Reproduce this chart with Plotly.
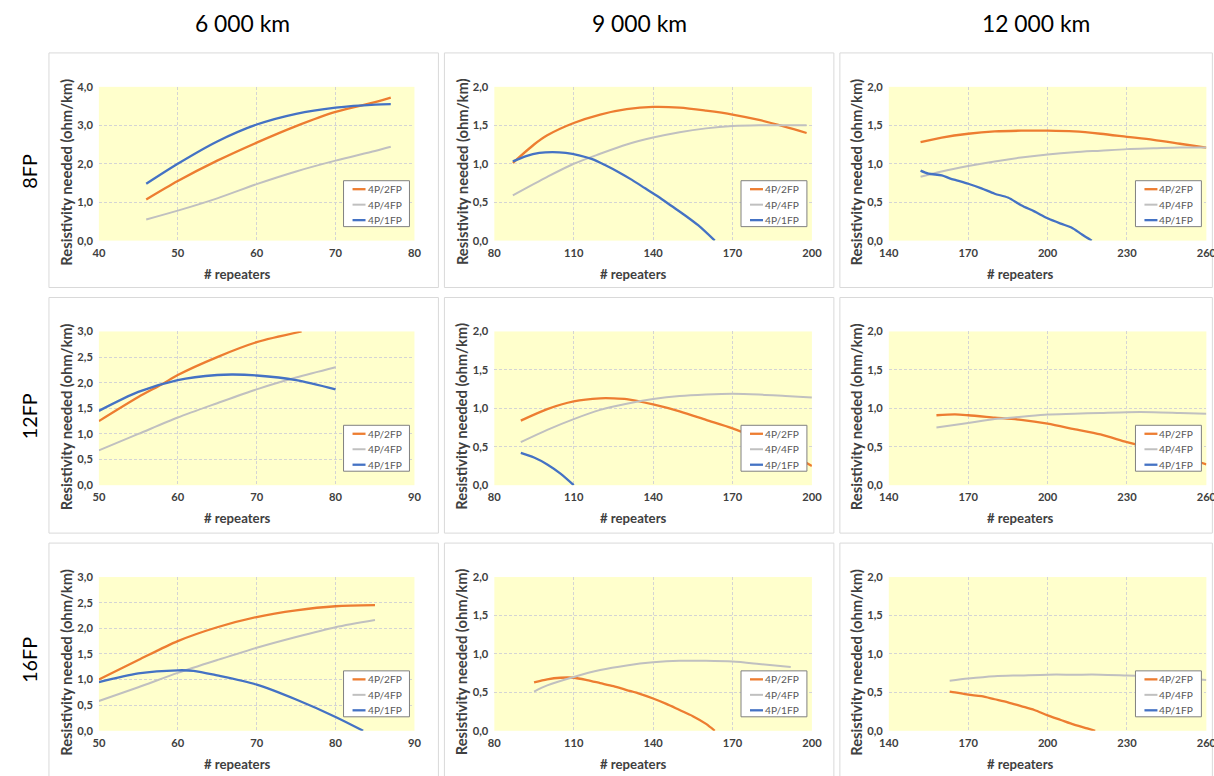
import plotly.graph_objects as go

# Window 1214x776. The captured page places the figure at an 8 px offset and renders it
# at ~98.5 % scale, so positions/sizes are mapped from window pixels to figure pixels.
W, H = 1214, 776
OFF = 8
S = 0.985
FW, FH = round((W - OFF) / S), round((H - OFF) / S)

# ---------------- data ----------------
col_titles = ["6 000 km", "9 000 km", "12 000 km"]
row_titles = ["8FP", "12FP", "16FP"]
series_names = ["4P/2FP", "4P/4FP", "4P/1FP"]
series_colors = ["#ED7D31", "#C0C0C0", "#4472C4"]
series_widths = [2.3, 2.0, 2.3]

# 8FP, 6 000 km
x_8_6_2fp = [46, 50, 55, 60, 65, 70, 75, 77]
y_8_6_2fp = [1.07, 1.55, 2.08, 2.55, 2.98, 3.35, 3.6, 3.72]
x_8_6_4fp = [46, 50, 55, 60, 65, 70, 75, 77]
y_8_6_4fp = [0.55, 0.78, 1.1, 1.47, 1.8, 2.08, 2.33, 2.44]
x_8_6_1fp = [46, 50, 55, 60, 65, 70, 75, 77]
y_8_6_1fp = [1.48, 2.0, 2.58, 3.02, 3.3, 3.46, 3.54, 3.55]

# 8FP, 9 000 km
x_8_9_2fp = [87, 95, 100, 110, 120, 130, 140, 150, 160, 170, 180, 190, 198]
y_8_9_2fp = [1.01, 1.25, 1.37, 1.53, 1.64, 1.71, 1.74, 1.73, 1.69, 1.64, 1.57, 1.48, 1.40]
x_8_9_4fp = [87, 100, 110, 120, 130, 140, 150, 160, 170, 180, 190, 198]
y_8_9_4fp = [0.59, 0.83, 1.0, 1.13, 1.25, 1.34, 1.41, 1.46, 1.49, 1.50, 1.50, 1.50]
x_8_9_1fp = [87, 92, 97, 102, 107, 112, 117, 122, 127, 132, 137, 142, 147, 152, 157, 163.3]
y_8_9_1fp = [1.03, 1.10, 1.14, 1.15, 1.14, 1.11, 1.06, 0.98, 0.89, 0.79, 0.68, 0.57, 0.45, 0.33, 0.20, 0.0]

# 8FP, 12 000 km
x_8_12_2fp = [152, 160, 170, 180, 190, 200, 210, 220, 230, 240, 250, 260]
y_8_12_2fp = [1.28, 1.34, 1.39, 1.42, 1.43, 1.43, 1.42, 1.39, 1.35, 1.31, 1.26, 1.21]
x_8_12_4fp = [152, 160, 170, 180, 190, 200, 210, 220, 230, 240, 250, 260]
y_8_12_4fp = [0.83, 0.9, 0.97, 1.03, 1.08, 1.12, 1.15, 1.17, 1.19, 1.20, 1.21, 1.21]
x_8_12_1fp = [152, 155, 160, 163, 166, 170, 175, 180, 185, 190, 195, 200, 205, 209, 213, 216.7]
y_8_12_1fp = [0.91, 0.87, 0.85, 0.81, 0.78, 0.74, 0.68, 0.61, 0.56, 0.46, 0.38, 0.29, 0.22, 0.17, 0.08, 0.0]

# 12FP, 6 000 km
x_12_6_2fp = [50, 55, 58, 60, 65, 70, 75.7]
y_12_6_2fp = [1.25, 1.72, 1.97, 2.15, 2.5, 2.79, 3.0]
x_12_6_4fp = [50, 55, 60, 65, 70, 75, 80]
y_12_6_4fp = [0.68, 1.0, 1.32, 1.6, 1.87, 2.1, 2.3]
x_12_6_1fp = [50, 55, 60, 65, 67, 70, 75, 80]
y_12_6_1fp = [1.45, 1.82, 2.05, 2.15, 2.16, 2.14, 2.05, 1.87]

# 12FP, 9 000 km
x_12_9_2fp = [90, 100, 110, 120, 125, 130, 140, 150, 160, 170, 180, 190, 200]
y_12_9_2fp = [0.84, 0.99, 1.09, 1.13, 1.13, 1.12, 1.05, 0.96, 0.85, 0.74, 0.6, 0.44, 0.25]
x_12_9_4fp = [90, 100, 110, 120, 130, 140, 150, 160, 170, 180, 190, 200]
y_12_9_4fp = [0.56, 0.72, 0.86, 0.98, 1.06, 1.12, 1.16, 1.18, 1.19, 1.18, 1.16, 1.14]
x_12_9_1fp = [90, 95, 100, 105, 110]
y_12_9_1fp = [0.42, 0.36, 0.27, 0.15, 0.0]

# 12FP, 12 000 km
x_12_12_2fp = [158, 165, 170, 180, 190, 200, 210, 220, 230, 240, 250, 260]
y_12_12_2fp = [0.91, 0.92, 0.91, 0.88, 0.85, 0.8, 0.73, 0.66, 0.56, 0.47, 0.38, 0.27]
x_12_12_4fp = [158, 170, 180, 190, 200, 210, 220, 230, 240, 250, 260]
y_12_12_4fp = [0.75, 0.81, 0.86, 0.89, 0.92, 0.93, 0.94, 0.95, 0.95, 0.94, 0.93]
x_12_12_1fp = []
y_12_12_1fp = []

# 16FP, 6 000 km
x_16_6_2fp = [50, 55, 60, 65, 70, 75, 80, 85]
y_16_6_2fp = [1.0, 1.38, 1.75, 2.02, 2.22, 2.35, 2.43, 2.45]
x_16_6_4fp = [50, 55, 60, 65, 70, 75, 80, 85]
y_16_6_4fp = [0.58, 0.85, 1.13, 1.38, 1.62, 1.83, 2.02, 2.16]
x_16_6_1fp = [50, 55, 60, 62, 65, 70, 75, 80, 83.5]
y_16_6_1fp = [0.95, 1.12, 1.18, 1.17, 1.08, 0.9, 0.61, 0.27, 0.0]

# 16FP, 9 000 km
x_16_9_2fp = [95, 100, 105, 110, 115, 120, 125, 130, 135, 140, 145, 150, 155, 160, 163.3]
y_16_9_2fp = [0.63, 0.67, 0.69, 0.69, 0.66, 0.62, 0.58, 0.53, 0.48, 0.42, 0.35, 0.27, 0.19, 0.09, 0.0]
x_16_9_4fp = [95, 100, 110, 120, 130, 140, 150, 160, 170, 180, 192]
y_16_9_4fp = [0.51, 0.59, 0.70, 0.79, 0.85, 0.89, 0.91, 0.91, 0.90, 0.87, 0.83]
x_16_9_1fp = []
y_16_9_1fp = []

# 16FP, 12 000 km
x_16_12_2fp = [163, 165, 170, 175, 180, 185, 190, 195, 200, 205, 210, 215, 218]
y_16_12_2fp = [0.51, 0.50, 0.47, 0.45, 0.41, 0.37, 0.32, 0.27, 0.20, 0.14, 0.08, 0.03, 0.0]
x_16_12_4fp = [163, 170, 180, 190, 200, 210, 220, 230, 240, 250, 260]
y_16_12_4fp = [0.65, 0.68, 0.71, 0.72, 0.73, 0.73, 0.73, 0.72, 0.71, 0.69, 0.66]
x_16_12_1fp = []
y_16_12_1fp = []

panels = [
    [  # row 8FP
        [(x_8_6_2fp, y_8_6_2fp), (x_8_6_4fp, y_8_6_4fp), (x_8_6_1fp, y_8_6_1fp)],
        [(x_8_9_2fp, y_8_9_2fp), (x_8_9_4fp, y_8_9_4fp), (x_8_9_1fp, y_8_9_1fp)],
        [(x_8_12_2fp, y_8_12_2fp), (x_8_12_4fp, y_8_12_4fp), (x_8_12_1fp, y_8_12_1fp)],
    ],
    [  # row 12FP
        [(x_12_6_2fp, y_12_6_2fp), (x_12_6_4fp, y_12_6_4fp), (x_12_6_1fp, y_12_6_1fp)],
        [(x_12_9_2fp, y_12_9_2fp), (x_12_9_4fp, y_12_9_4fp), (x_12_9_1fp, y_12_9_1fp)],
        [(x_12_12_2fp, y_12_12_2fp), (x_12_12_4fp, y_12_12_4fp), (x_12_12_1fp, y_12_12_1fp)],
    ],
    [  # row 16FP
        [(x_16_6_2fp, y_16_6_2fp), (x_16_6_4fp, y_16_6_4fp), (x_16_6_1fp, y_16_6_1fp)],
        [(x_16_9_2fp, y_16_9_2fp), (x_16_9_4fp, y_16_9_4fp), (x_16_9_1fp, y_16_9_1fp)],
        [(x_16_12_2fp, y_16_12_2fp), (x_16_12_4fp, y_16_12_4fp), (x_16_12_1fp, y_16_12_1fp)],
    ],
]

x_ranges = [[(40, 80, 10), (80, 200, 30), (140, 260, 30)],
            [(50, 90, 10), (80, 200, 30), (140, 260, 30)],
            [(50, 90, 10), (80, 200, 30), (140, 260, 30)]]
y_ranges = [[(0, 4, 1), (0, 2, 0.5), (0, 2, 0.5)],
            [(0, 3, 0.5), (0, 2, 0.5), (0, 2, 0.5)],
            [(0, 3, 0.5), (0, 2, 0.5), (0, 2, 0.5)]]

# ---------------- layout geometry (window pixels) ----------------
box_cols = [(47, 437), (443, 833), (839, 1212)]
box_rows = [(54, 289), (299, 535), (545, 790)]
plot_cols = [(97, 413), (493, 811), (888, 1206)]
plot_rows = [(88, 242), (333, 487), (579, 733)]
col_title_x = [241, 638, 1035]
row_title_y = [172, 418, 662]

FONT = "Lato, Liberation Sans, Arial"
TXT = "#404040"


def px_x(v):
    return ((v - OFF) / S) / FW


def px_y(v):
    return 1 - ((v - OFF) / S) / FH


def fs(v):
    return v / S


fig = go.Figure()
layout = dict(
    width=FW, height=FH, margin=dict(l=0, r=0, t=0, b=0),
    paper_bgcolor="white", plot_bgcolor="#FFFFCC",
    separators=", ", showlegend=False,
    font=dict(family=FONT, color=TXT),
)
shapes = []
annotations = []

idx = 0
for r in range(3):
    for c in range(3):
        idx += 1
        sfx = "" if idx == 1 else str(idx)
        xa, ya = "x" + sfx, "y" + sfx
        xl, xr = plot_cols[c]
        yt, yb = plot_rows[r]
        x0, x1, dx = x_ranges[r][c]
        y0, y1, dy = y_ranges[r][c]
        layout["xaxis" + sfx] = dict(
            domain=[px_x(xl), px_x(xr)], anchor=ya, range=[x0, x1],
            tick0=x0, dtick=dx, showgrid=True, gridcolor="#D4D4D4", griddash="3px,2px",
            gridwidth=1, zeroline=False, showline=False, ticks="", ticklabelstandoff=4,
            tickfont=dict(family=FONT, size=fs(11), color=TXT, weight="bold"),
        )
        layout["yaxis" + sfx] = dict(
            domain=[px_y(yb), px_y(yt)], anchor=xa, range=[y0, y1],
            tick0=y0, dtick=dy, tickformat=".1f", showgrid=True, gridcolor="#D4D4D4",
            griddash="3px,2px", gridwidth=1, zeroline=False, showline=False, ticks="",
            ticklabelstandoff=5,
            tickfont=dict(family=FONT, size=fs(11), color=TXT, weight="bold"),
        )
        for s in range(3):
            xs, ys = panels[r][c][s]
            fig.add_trace(go.Scatter(
                x=xs, y=ys, mode="lines", name=series_names[s],
                line=dict(color=series_colors[s], width=series_widths[s], shape="spline", smoothing=0.8),
                xaxis=xa, yaxis=ya, showlegend=False,
            ))
        # panel box
        bx0, bx1 = box_cols[c]
        by0, by1 = box_rows[r]
        shapes.append(dict(type="rect", xref="paper", yref="paper",
                           x0=px_x(bx0), x1=px_x(bx1), y0=px_y(by1), y1=px_y(by0),
                           line=dict(color="#D9D9D9", width=1), fillcolor="rgba(0,0,0,0)", layer="below"))
        # legend box (per panel)
        lx0, lx1 = xr - 71, xr - 5
        ly0, ly1 = yb - 60, yb - 14
        shapes.append(dict(type="rect", xref="paper", yref="paper",
                           x0=px_x(lx0), x1=px_x(lx1), y0=px_y(ly1), y1=px_y(ly0),
                           line=dict(color="#808080", width=1), fillcolor="white", layer="above"))
        for s in range(3):
            yy = ly0 + 8.5 + s * 15.5
            shapes.append(dict(type="line", xref="paper", yref="paper",
                               x0=px_x(lx0 + 9), x1=px_x(lx0 + 22), y0=px_y(yy), y1=px_y(yy),
                               line=dict(color=series_colors[s], width=series_widths[s]), layer="above"))
            annotations.append(dict(text=series_names[s], xref="paper", yref="paper",
                                    x=px_x(lx0 + 22), y=px_y(yy), xanchor="left", yanchor="middle",
                                    showarrow=False, font=dict(family=FONT, size=fs(10), color="#595959")))
        # axis titles
        annotations.append(dict(text="# repeaters", xref="paper", yref="paper",
                                x=px_x((bx0 + bx1) / 2 - 6), y=px_y(yb + 33), xanchor="center", yanchor="middle",
                                showarrow=False, font=dict(family=FONT, size=fs(13), color=TXT, weight="bold")))
        annotations.append(dict(text="Resistivity needed (ohm/km)", xref="paper", yref="paper",
                                x=px_x(xl - 33), y=px_y((yt + yb) / 2 + 8), xanchor="center", yanchor="middle",
                                textangle=-90, showarrow=False,
                                font=dict(family=FONT, size=fs(14.5), color=TXT, weight="bold")))

for c, t in enumerate(col_titles):
    annotations.append(dict(text=t, xref="paper", yref="paper", x=px_x(col_title_x[c]),
                            y=px_y(24), xanchor="center", yanchor="middle", showarrow=False,
                            font=dict(family=FONT, size=fs(22.5), color="black")))
for r, t in enumerate(row_titles):
    annotations.append(dict(text=t, xref="paper", yref="paper", x=px_x(27), y=px_y(row_title_y[r]),
                            xanchor="center", yanchor="middle", textangle=-90, showarrow=False,
                            font=dict(family=FONT, size=fs(19.5), color="black")))

layout["shapes"] = shapes
layout["annotations"] = annotations
fig.update_layout(**layout)
fig.write_html("out.html")
